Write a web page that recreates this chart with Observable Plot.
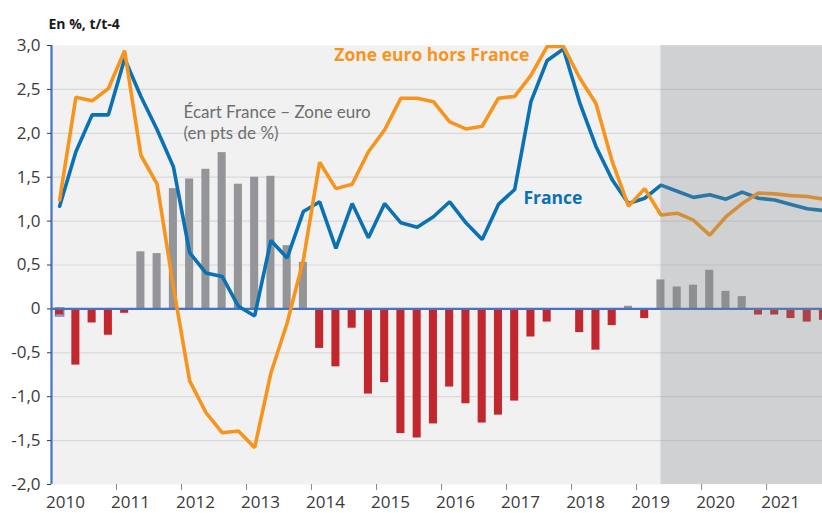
<!DOCTYPE html>
<html><head><meta charset="utf-8">
<script src="https://cdn.jsdelivr.net/npm/d3@7"></script>
<script src="https://cdn.jsdelivr.net/npm/@observablehq/plot@0.6"></script>
<style>body{margin:0;background:#fff}</style>
</head><body><div id="chart"></div>
<script>
const periods = [
  "2010T1","2010T2","2010T3","2010T4","2011T1","2011T2","2011T3","2011T4",
  "2012T1","2012T2","2012T3","2012T4","2013T1","2013T2","2013T3","2013T4",
  "2014T1","2014T2","2014T3","2014T4","2015T1","2015T2","2015T3","2015T4",
  "2016T1","2016T2","2016T3","2016T4","2017T1","2017T2","2017T3","2017T4",
  "2018T1","2018T2","2018T3","2018T4","2019T1","2019T2","2019T3","2019T4",
  "2020T1","2020T2","2020T3","2020T4","2021T1","2021T2","2021T3","2021T4"];
const france = [
  1.17, 1.79, 2.21, 2.21, 2.85, 2.42, 2.04, 1.62,
  0.64, 0.41, 0.37, 0.03, -0.08, 0.78, 0.58, 1.11,
  1.22, 0.69, 1.20, 0.81, 1.20, 0.98, 0.93, 1.05,
  1.22, 0.98, 0.79, 1.19, 1.36, 2.36, 2.83, 2.96,
  2.35, 1.85, 1.47, 1.20, 1.26, 1.41, 1.34, 1.27,
  1.30, 1.25, 1.33, 1.26, 1.24, 1.19, 1.14, 1.12];
const zoneEuroHorsFrance = [
  1.24, 2.41, 2.37, 2.51, 2.94, 1.75, 1.42, 0.25,
  -0.82, -1.18, -1.41, -1.39, -1.58, -0.73, -0.16, 0.56,
  1.67, 1.37, 1.42, 1.79, 2.04, 2.40, 2.40, 2.36,
  2.13, 2.05, 2.08, 2.40, 2.42, 2.66, 2.99, 2.99,
  2.63, 2.34, 1.68, 1.17, 1.37, 1.07, 1.09, 1.01,
  0.84, 1.05, 1.20, 1.32, 1.31, 1.29, 1.28, 1.25];
const ecart = [
  -0.07, -0.64, -0.16, -0.30, -0.05, 0.65, 0.63, 1.37,
  1.48, 1.59, 1.78, 1.42, 1.50, 1.51, 0.72, 0.53,
  -0.45, -0.66, -0.22, -0.97, -0.84, -1.42, -1.47, -1.31,
  -0.89, -1.08, -1.30, -1.21, -1.05, -0.32, -0.15, 0,
  -0.27, -0.47, -0.19, 0.03, -0.11, 0.33, 0.25, 0.27,
  0.44, 0.20, 0.14, -0.07, -0.07, -0.11, -0.15, -0.13];
const yTicks = [-2, -1.5, -1, -0.5, 0, 0.5, 1, 1.5, 2, 2.5, 3];
const xYears = [2010, 2011, 2012, 2013, 2014, 2015, 2016, 2017, 2018, 2019, 2020, 2021];
const forecastStart = "2019T2";
const xDomain = [2010, 2021.86];
const yDomain = [-2, 3];
const title = "En %, t/t-4";
const labelZone = {text: "Zone euro hors France", x: 2015.85, y: 2.82};
const labelFrance = {text: "France", x: 2017.26, y: 1.19};
const labelEcart = {text: "Écart France – Zone euro\n(en pts de %)", x: 2012.03, y: 2.338};

const toT = p => +p.slice(0, 4) + (+p.slice(5) - 0.5) / 4;
const rows = periods.map((p, i) => ({p, t: toT(p), fr: france[i], ze: zoneEuroHorsFrance[i], d: ecart[i]}));
const halfBar = 0.062;
const fmt = v => v === 0 ? "0" : v.toFixed(1).replace(".", ",").replace("−", "-");
const font = "'Open Sans', sans-serif";

const chart = Plot.plot({
  width: 822, height: 513,
  marginLeft: 51, marginRight: 0, marginTop: 45, marginBottom: 29,
  style: {fontFamily: font, fontSize: "17px", background: "#fff", overflow: "visible"},
  x: {domain: xDomain, label: null},
  y: {domain: yDomain, label: null},
  marks: [
    Plot.frame({fill: "#f1f1f1", stroke: "none"}),
    Plot.ruleY(yTicks.filter(v => v !== 0 && v !== -2 && v !== 3), {stroke: "#d9d9d9", strokeWidth: 1.2}),
    Plot.dot([rows[0]], {x: "t", y: d => d.d / 2, symbol: "square", r: 4.6, fill: "#b4c6ea", stroke: "#6b90d2", strokeWidth: 1.5}),
    Plot.rect(rows, {x1: d => d.t - halfBar, x2: d => d.t + halfBar, y1: 0, y2: "d",
      fill: d => d.d >= 0 ? "#939598" : "#c1272d"}),
    Plot.ruleY([0], {stroke: "#4472c4", strokeWidth: 2.2}),
    Plot.line(rows, {x: "t", y: "fr", stroke: "#0a72b4", strokeWidth: 3.6, strokeLinejoin: "miter", clip: true}),
    Plot.line(rows, {x: "t", y: "ze", stroke: "#f7941d", strokeWidth: 3.6, strokeLinejoin: "miter", clip: true}),
    Plot.rect([{x1: toT(forecastStart), x2: xDomain[1]}], {x1: "x1", x2: "x2", y1: yDomain[0], y2: yDomain[1], fill: "#818386", fillOpacity: 0.29}),
    Plot.ruleX([xDomain[0]], {stroke: "#4472c4", strokeWidth: 2.2}),
    Plot.axisY({ticks: yTicks, tickFormat: fmt, tickSize: 4, tickPadding: 7, color: "#3a3a3a", fontSize: 17}),
    Plot.axisX({ticks: xYears.slice(1), tickFormat: null, tickSize: 6, stroke: "#888", text: null}),
    Plot.axisX({ticks: xYears, tickFormat: d => String(d), tickSize: 0, tickPadding: 11, dx: 14, color: "#3a3a3a", fontSize: 17}),
    Plot.text([labelZone], {x: "x", y: "y", text: "text", fill: "#f7941d", textAnchor: "middle",
      lineAnchor: "bottom", fontWeight: "bold", fontSize: 17.5}),
    Plot.text([labelFrance], {x: "x", y: "y", text: "text", fill: "#0a72b4", textAnchor: "start",
      lineAnchor: "bottom", fontWeight: "bold", fontSize: 17.5}),
    Plot.text([labelEcart], {x: "x", y: "y", text: "text", fill: "#6d6e71", textAnchor: "start",
      lineAnchor: "top", lineHeight: 1.21, fontSize: 17, fontFamily: "Lato, sans-serif"}),
    Plot.text([title], {frameAnchor: "top-left", text: d => d, dx: -3, dy: -17, lineAnchor: "bottom",
      textAnchor: "start", fontWeight: "bold", fontSize: 14, fill: "#1a1a1a"})
  ]
});
document.getElementById("chart").appendChild(chart);
</script>
</body></html>
